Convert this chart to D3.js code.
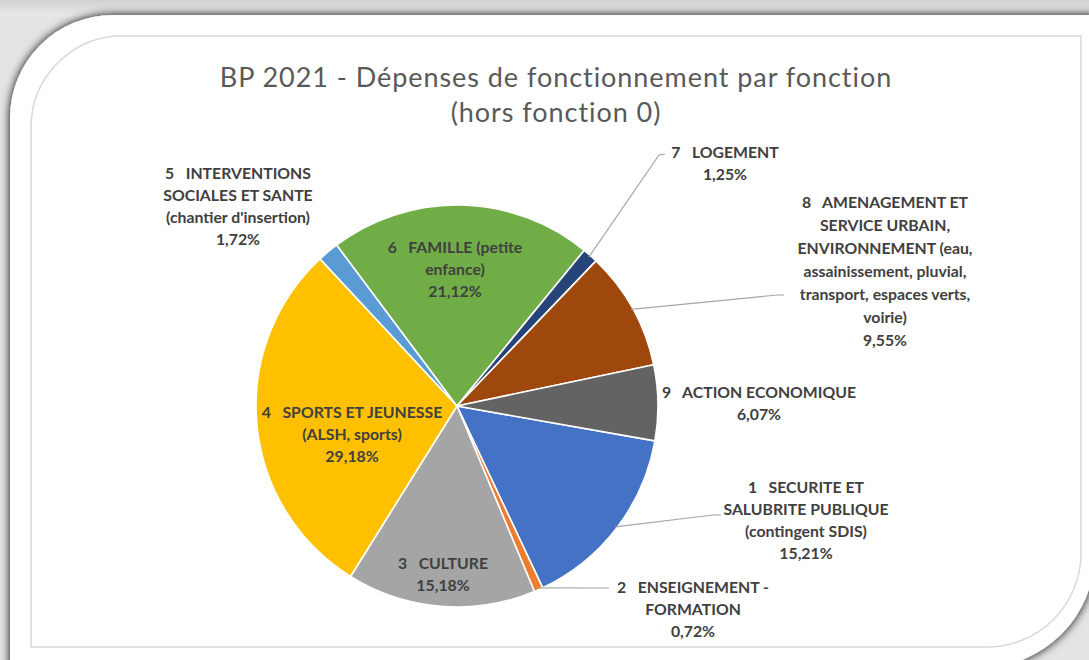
<!DOCTYPE html>
<meta charset="utf-8">
<body style="margin: 0; overflow: hidden; background: #fff">
<script src="https://d3js.org/d3.v7.min.js"></script>
<script>
    var width = 1089, height = 660;

    // fonctions (ordre Excel, sens horaire)
    var labels = [
        ["1   SECURITE ET", "SALUBRITE PUBLIQUE", "(contingent SDIS)"],
        ["2   ENSEIGNEMENT -", "FORMATION"],
        ["3   CULTURE"],
        ["4   SPORTS ET JEUNESSE", "(ALSH, sports)"],
        ["5   INTERVENTIONS", "SOCIALES ET SANTE", "(chantier d'insertion)"],
        ["6   FAMILLE (petite", "enfance)"],
        ["7   LOGEMENT"],
        ["8   AMENAGEMENT ET", "SERVICE URBAIN,", "ENVIRONNEMENT (eau,", "assainissement, pluvial,", "transport, espaces verts,", "voirie)"],
        ["9   ACTION ECONOMIQUE"]
    ];
    var shares = [15.21, 0.72, 15.18, 29.18, 1.72, 21.12, 1.25, 9.55, 6.07];
    var colors = ["#4472C4", "#ED7D31", "#A5A5A5", "#FFC000", "#5B9BD5", "#70AD47", "#264478", "#9E480E", "#636363"];

    var title = ["BP 2021 - Dépenses de fonctionnement par fonction", "(hors fonction 0)"];

    // where the labels were dragged to, relative to the pie centre: [cx, first line y]
    var labelAt = [[349, 81], [236, 181], [-14, 157], [-105, 6], [-219, -233], [-2, -159], [268, -254], [428, -204], [302, -14]];
    // leader line elbows (null = no leader)
    var leaders = [[[256, 109], [264, 109]], [[145, 182], [152, 182]], null, null, null, null,
        [[202, -251], [208, -252]], [[320, -111], [327, -111]], null];

    var cx = 457, cy = 406, radius = 201;

    var svg = d3.select("body").append("svg")
        .attr("width", width)
        .attr("height", height);

    // ---- picture frame (rounded diagonal corners + soft shadow) ----
    var defs = svg.append("defs");
    var shadow = defs.append("filter").attr("id", "shadow")
        .attr("x", "-10%").attr("y", "-10%").attr("width", "120%").attr("height", "120%");
    shadow.append("feGaussianBlur").attr("in", "SourceAlpha").attr("stdDeviation", 5);
    shadow.append("feOffset").attr("dx", 0).attr("dy", 0).attr("result", "blur");
    var fm = shadow.append("feMerge");
    fm.append("feMergeNode").attr("in", "blur");
    fm.append("feMergeNode").attr("in", "SourceGraphic");

    var topGrad = defs.append("linearGradient").attr("id", "topband")
        .attr("x1", 0).attr("y1", 0).attr("x2", 0).attr("y2", 1);
    topGrad.append("stop").attr("offset", "0%").attr("stop-color", "#d2d2d2");
    topGrad.append("stop").attr("offset", "100%").attr("stop-color", "#e9e9e9");

    svg.append("rect").attr("width", width).attr("height", height).attr("fill", "#e4e4e4");
    svg.append("rect").attr("width", width).attr("height", 16).attr("fill", "url(#topband)");

    svg.append("path")
        .attr("d", "M10,118 A103,103 0 0 1 113,15 H1095 V553 A115,115 0 0 1 980,668 H10 Z")
        .attr("fill", "#fff")
        .attr("filter", "url(#shadow)");

    // chart area border
    svg.append("path")
        .attr("d", "M31,128 A92,92 0 0 1 116,36 H1081 V555 A94,94 0 0 1 987,647 H31 Z")
        .attr("fill", "none")
        .attr("stroke", "#d9d9d9")
        .attr("stroke-width", 1.5);

    // ---- title ----
    svg.append("g").selectAll("text")
        .data(title)
        .join("text")
        .attr("x", 556)
        .attr("y", function (d, i) { return 87 + i * 35; })
        .attr("text-anchor", "middle")
        .style("font-family", "Lato, 'Open Sans', sans-serif")
        .style("font-size", "27px")
        .style("letter-spacing", "0.95px")
        .attr("fill", "#595959")
        .text(function (d) { return d; });

    // ---- pie ----
    var pie = d3.pie()
        .sort(null)
        .value(function (d) { return d; })
        .startAngle(100 * Math.PI / 180)
        .endAngle(460 * Math.PI / 180);

    var arcs = pie(shares);
    var arc = d3.arc().innerRadius(0).outerRadius(radius);
    var rim = d3.arc().innerRadius(radius - 2).outerRadius(radius - 2);

    var g = svg.append("g").attr("transform", "translate(" + cx + "," + cy + ")");

    g.selectAll("path.slice")
        .data(arcs)
        .join("path")
        .attr("class", "slice")
        .attr("d", arc)
        .attr("fill", function (d, i) { return colors[i]; })
        .attr("stroke", "#fff")
        .attr("stroke-width", 1.6)
        .attr("stroke-linejoin", "round");

    // leader lines
    g.selectAll("polyline")
        .data(arcs.filter(function (d, i) { return leaders[i]; }))
        .join("polyline")
        .attr("points", function (d) {
            var p = [rim.centroid(d)].concat(leaders[d.index]);
            return p.map(function (q) { return q.join(","); }).join(" ");
        })
        .attr("fill", "none")
        .attr("stroke", "#a6a6a6")
        .attr("stroke-width", 1.2);

    var fmt = d3.format(".2f");
    var pct = function (v) { return fmt(v).replace(".", ",") + "%"; };

    var lab = g.selectAll("text.lab")
        .data(arcs)
        .join("text")
        .attr("class", "lab")
        .attr("text-anchor", "middle")
        .style("font-family", "Lato, 'Open Sans', sans-serif")
        .style("font-weight", "bold")
        .style("font-size", "15.8px")
        .style("white-space", "pre")
        .attr("fill", "#404040");

    lab.selectAll("tspan")
        .data(function (d) {
            var lines = labels[d.index].concat([pct(d.data)]);
            var lh = d.index === 7 ? 23 : 22.3;
            return lines.map(function (t, k) {
                return { t: t, x: labelAt[d.index][0], y: labelAt[d.index][1] + k * lh };
            });
        })
        .join("tspan")
        .attr("x", function (d) { return d.x; })
        .attr("y", function (d) { return d.y; })
        .attr("dy", "0.35em")
        .text(function (d) { return d.t; });
</script>
